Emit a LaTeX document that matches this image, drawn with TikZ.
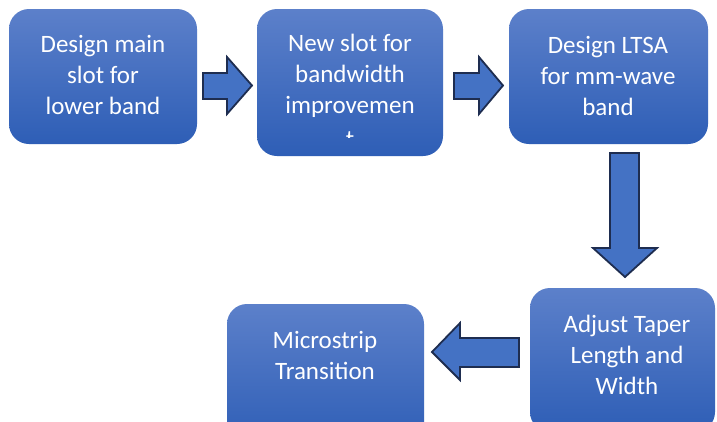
\documentclass[tikz,border=0pt]{standalone}
\usepackage{fontspec}
\setmainfont{Carlito}
\definecolor{boxtop}{RGB}{92,128,202}
\definecolor{boxbot}{RGB}{46,94,182}
\definecolor{arrowfill}{RGB}{68,114,196}
\definecolor{arrowedge}{RGB}{30,45,80}
\tikzset{
  flowbox/.style={rounded corners=20pt, top color=boxtop, bottom color=boxbot, draw=none, inner sep=0pt},
  flowtext/.style={text=white, font=\fontsize{25}{31}\selectfont, align=center, inner sep=0pt},
  blockarrow/.style={fill=arrowfill, draw=arrowedge, line width=1.8pt, line join=miter}
}
\begin{document}
\begin{tikzpicture}[x=1pt,y=-1pt]
\useasboundingbox (0,0) rectangle (717,421);
\clip (0,0) rectangle (717,421);
\fill[white] (0,0) rectangle (717,421);
% boxes
\path[flowbox] (9,9) rectangle (197,144);
\node[inner sep=0pt, minimum width=188pt, minimum height=135pt] (b1) at (103,76.5) {};
\path[flowbox] (257,9) rectangle (443,156);
\node[inner sep=0pt, minimum width=186pt, minimum height=147pt] (b2) at (350,82.5) {};
\path[flowbox] (509,9) rectangle (708,144);
\node[inner sep=0pt, minimum width=199pt, minimum height=135pt] (b3) at (608.5,76.5) {};
\path[flowbox] (530,288) rectangle (715,432);
\node[inner sep=0pt, minimum width=185pt, minimum height=144pt] (b4) at (622.5,360) {};
\path[flowbox] (227,304) rectangle (424,446);
\node[inner sep=0pt, minimum width=197pt, minimum height=142pt] (b5) at (325.5,375) {};
% texts
\node[flowtext] (t1) at (103,75) {Design main\\slot for\\lower band};
\node[flowtext] (t2) at (350,75.5) {New slot for\\bandwidth\\improvemen};
\begin{scope}
\clip (257,120) rectangle (443,137.5);
\node[flowtext] (t2b) at (350,140) {t};
\end{scope}
\node[flowtext] (t3) at (608,76) {Design LTSA\\for mm-wave\\band};
\node[flowtext] (t4) at (627,354.5) {Adjust Taper\\Length and\\Width};
\node[flowtext] (t5) at (325,355.5) {Microstrip\\Transition};
% block arrows
\draw[blockarrow] (203,73) -- (227,73) -- (227,57) -- (252,85.5) -- (227,114) -- (227,99) -- (203,99) -- cycle;
\draw[blockarrow] (454,73) -- (479,73) -- (479,57) -- (503,85.5) -- (479,114) -- (479,99) -- (454,99) -- cycle;
\draw[blockarrow] (610,153) -- (639,153) -- (639,248) -- (657,248) -- (625,277) -- (593,248) -- (610,248) -- cycle;
\draw[blockarrow] (519,338) -- (460,338) -- (460,323) -- (432,352) -- (460,380) -- (460,367) -- (519,367) -- cycle;
\end{tikzpicture}
\end{document}
